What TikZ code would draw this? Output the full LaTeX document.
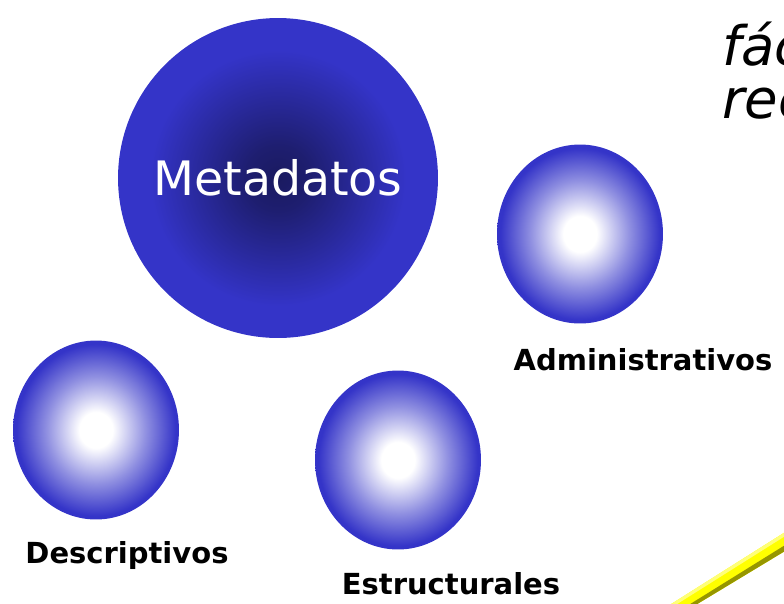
\documentclass[tikz,border=0pt]{standalone}
\usepackage{fontspec}
\setmainfont{DejaVu Sans}
\usetikzlibrary{shapes.geometric}

\definecolor{ballblue}{RGB}{52,52,200}
\definecolor{balldark}{RGB}{26,26,96}
\definecolor{penyellow}{RGB}{255,255,0}
\definecolor{penlight}{RGB}{255,255,120}
\definecolor{penshadow}{RGB}{150,150,0}

\pgfdeclareradialshading{darkball}{\pgfpoint{0bp}{0bp}}{color(0bp)=(balldark); color(5bp)=(balldark!85!ballblue); color(20bp)=(ballblue); color(50bp)=(ballblue)}
\pgfdeclareradialshading{whiteball}{\pgfpoint{0bp}{0bp}}{color(0bp)=(white); color(5bp)=(white); color(15bp)=(white!45!ballblue); color(24bp)=(ballblue); color(50bp)=(ballblue)}

\begin{document}
\begin{tikzpicture}[x=0.02cm, y=-0.02cm,
    bigball/.style={circle, shading=darkball, minimum size=6.4cm, inner sep=0pt,
        text=white, font=\fontsize{27}{32}\selectfont},
    smallball/.style={ellipse, shading=whiteball, minimum width=3.32cm,
        minimum height=3.58cm, inner sep=0pt},
    balllabel/.style={font=\bfseries\fontsize{16.5}{19}\selectfont, inner sep=0pt},
    slanted/.style={anchor=base west, inner sep=0pt,
        font=\itshape\fontsize{31}{36}\selectfont}]
    \useasboundingbox (0,0) rectangle (784,603);

    % main ball
    \node[bigball] (meta) at (278,178) {Metadatos};

    % the three kinds
    \node[smallball] (admin) at (580,234) {};
    \node[smallball] (desc) at (96,430) {};
    \node[smallball] (estr) at (398,460) {};
    \node[balllabel] (adminlbl) at (643,360) {Administrativos};
    \node[balllabel] (desclbl) at (127,555) {Descriptivos};
    \node[balllabel] (estrlbl) at (451,584) {Estructurales};

    % text cut at the right edge
    \node[slanted] (fac) at (722,65) {fác};
    \node[slanted] (rec) at (722,118) {rec};

    % yellow bar, lower right
    \fill[penyellow] (668,606) -- (790,529) -- (790,548) -- (694,606) -- cycle;
    \fill[penlight] (668,606) -- (790,529) -- (790,533) -- (674,606) -- cycle;
    \fill[penshadow] (687,606) -- (790,542) -- (790,548) -- (694,606) -- cycle;
\end{tikzpicture}
\end{document}
